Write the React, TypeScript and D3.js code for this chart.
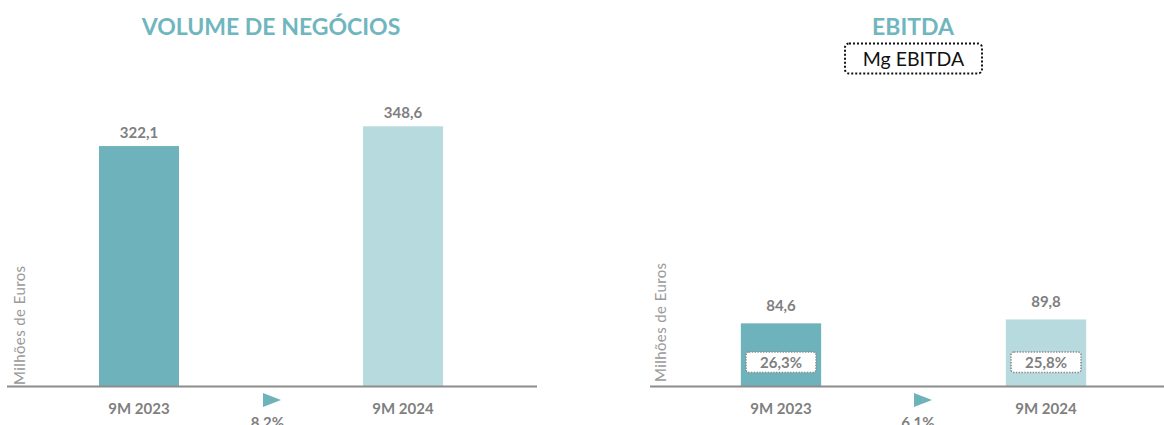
import React from "react";
import * as d3 from "d3";

const categories = ["9M 2023", "9M 2024"];
const volumeValues = [322.1, 348.6];
const volumeLabels = ["322,1", "348,6"];
const ebitdaValues = [84.6, 89.8];
const ebitdaLabels = ["84,6", "89,8"];
const marginLabels = ["26,3%", "25,8%"];
const growthLabels = ["8.2%", "6.1%"];
const titles = ["VOLUME DE NEGÓCIOS", "EBITDA"];
const yAxisTitle = "Milhões de Euros";
const legendLabel = "Mg EBITDA";

const W = 1164;
const H = 425;
const FONT = "Lato, 'Open Sans', sans-serif";
const BAR_COLORS = ["#6eb3bb", "#b7dade"];
const TITLE_COLOR = "#6fb6be";
const TEXT_GRAY = "#7f7f7f";
const AXIS_Y = 386.5;

const yScale = d3.scaleLinear().domain([0, 440]).range([AXIS_Y, AXIS_Y - 440 * 0.7465]);

type PanelProps = {
  x0: number;
  x1: number;
  axisStart: number;
  axisEnd: number;
  values: number[];
  labels: string[];
  labelGap: number;
  growth: string;
  growthOffset: number;
  arrowOffset: number;
  title: string;
  yTitleX: number;
  yTitleY: number;
  margins?: string[];
};

function Panel(p: PanelProps) {
  const x = d3
    .scaleBand<string>()
    .domain(categories)
    .range([p.x0, p.x1])
    .paddingInner(0.697)
    .paddingOuter(0.3485);
  const bw = x.bandwidth();
  const centers = categories.map((c) => (x(c) as number) + bw / 2);
  const mid = (centers[0] + centers[1]) / 2;
  const titleX = p.title === titles[0] ? mid : mid - 0.5;
  const ax = mid + p.arrowOffset;
  return (
    <g>
      <text x={titleX} y={35} textAnchor="middle" fontFamily={FONT} fontWeight={700} fontSize={23} fill={TITLE_COLOR}>
        {p.title}
      </text>
      <text
        transform={`translate(${p.yTitleX},${p.yTitleY}) rotate(-90)`}
        fontFamily={FONT}
        fontSize={15}
        letterSpacing={0.4}
        fill="#9a9a9a"
      >
        {yAxisTitle}
      </text>
      {categories.map((c, i) => (
        <g key={c}>
          <rect x={x(c)} y={yScale(p.values[i])} width={bw} height={AXIS_Y - yScale(p.values[i])} fill={BAR_COLORS[i]} />
          <text
            x={centers[i]}
            y={yScale(p.values[i]) - p.labelGap}
            textAnchor="middle"
            fontFamily={FONT}
            fontWeight={700}
            fontSize={15}
            fill={TEXT_GRAY}
          >
            {p.labels[i]}
          </text>
          <text x={centers[i]} y={414} textAnchor="middle" fontFamily={FONT} fontWeight={700} fontSize={15} fill={TEXT_GRAY}>
            {c}
          </text>
          {p.margins && (
            <g>
              <rect
                x={centers[i] - 35}
                y={AXIS_Y - 34.5}
                width={70}
                height={20.5}
                rx={3}
                fill="#ffffff"
                stroke="#8a8a8a"
                strokeWidth={1.6}
                strokeDasharray="1.4,1.4"
              />
              <text x={centers[i]} y={AXIS_Y - 18.5} textAnchor="middle" fontFamily={FONT} fontWeight={700} fontSize={15} fill={TEXT_GRAY}>
                {p.margins[i]}
              </text>
            </g>
          )}
        </g>
      ))}
      <line x1={p.axisStart} x2={p.axisEnd} y1={AXIS_Y} y2={AXIS_Y} stroke="#8c8c8c" strokeWidth={2} />
      <path d={`M${ax},393 L${ax + 18},400 L${ax},407 Z`} fill={BAR_COLORS[0]} />
      <text x={mid + p.growthOffset} y={427.5} textAnchor="middle" fontFamily={FONT} fontWeight={700} fontSize={15} fill={TEXT_GRAY}>
        {p.growth}
      </text>
    </g>
  );
}

export default function App() {
  return (
    <svg width={W} height={H} style={{ position: "absolute", left: 0, top: 0, background: "#ffffff" }}>
      <rect width={W} height={H} fill="#ffffff" />
      <Panel
        x0={7}
        x1={535}
        axisStart={7}
        axisEnd={537}
        values={volumeValues}
        labels={volumeLabels}
        labelGap={8}
        growth={growthLabels[0]}
        growthOffset={-3.5}
        arrowOffset={-8}
        title={titles[0]}
        yTitleX={25}
        yTitleY={385}
      />
      <Panel
        x0={648.5}
        x1={1178.5}
        axisStart={650}
        axisEnd={1164}
        values={ebitdaValues}
        labels={ebitdaLabels}
        labelGap={12}
        growth={growthLabels[1]}
        growthOffset={4.5}
        arrowOffset={0.5}
        title={titles[1]}
        yTitleX={665.5}
        yTitleY={382}
        margins={marginLabels}
      />
      <rect
        x={845}
        y={43.5}
        width={137}
        height={30}
        rx={4}
        fill="none"
        stroke="#111111"
        strokeWidth={2}
        strokeDasharray="2,2"
      />
      <text x={913.5} y={66} textAnchor="middle" fontFamily={FONT} fontSize={19.5} fill="#111111">
        {legendLabel}
      </text>
    </svg>
  );
}
